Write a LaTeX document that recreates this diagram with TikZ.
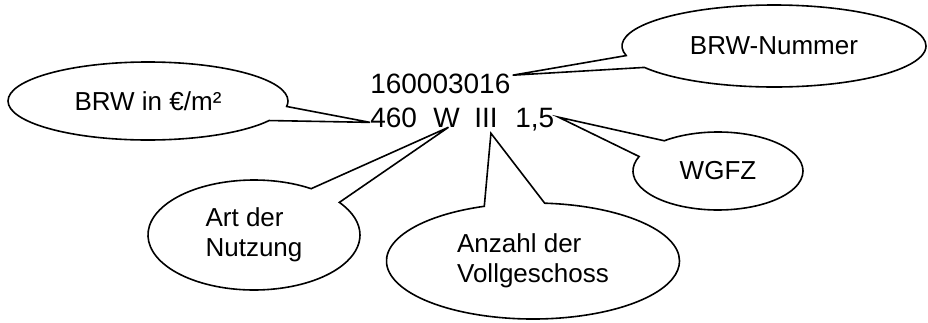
\documentclass[tikz,border=0pt]{standalone}
\usepackage{fontspec}
\setmainfont{Liberation Sans}
\usetikzlibrary{shapes.callouts,calc}

\begin{document}
\begin{tikzpicture}[x=0.75pt,y=0.75pt,yscale=-1,xscale=1,
  wert/.style={inner sep=0pt,anchor=base west,font=\fontsize{21}{25}\selectfont},
  bubble/.style={ellipse callout,draw,line width=1.2pt,inner sep=0pt,align=left,font=\fontsize{19.5}{22.5}\selectfont}]
\useasboundingbox (0,0) rectangle (928,322);

% Text Node
\node [wert] (nr) at (370,93) {160003016};
% Text Node
\node [wert] (v460) at (370,127) {460};
% Text Node
\node [wert] (vW) at (433,127) {W};
% Text Node
\node [wert] (vIII) at (474,127) {III};
% Text Node
\node [wert] (v15) at (515,127) {1,5};

% pointer ends
\coordinate (tNr) at ($(nr.north east)+(2,2)$);
\coordinate (t460) at ($(v460.west)+(0,5)$);
\coordinate (tW) at ($(vW.south)+(2,0)$);
\coordinate (tIII) at ($(vIII.south)+(5,6)$);
\coordinate (t15) at ($(v15.east)+(4,-2)$);

%Shape: Ellipse Callout
\node [bubble,minimum width=210pt,minimum height=58.5pt,callout pointer arc=22,
  callout absolute pointer={(t460)}] (brw) at (148,101) {BRW in €/m²};
%Shape: Ellipse Callout
\node [bubble,minimum width=228pt,minimum height=61.5pt,callout pointer arc=18,
  callout absolute pointer={(tNr)}] (nummer) at (774,46) {BRW-Nummer};
%Shape: Ellipse Callout
\node [bubble,minimum width=159pt,minimum height=82.5pt,callout pointer arc=21,
  callout absolute pointer={(tW)}] (art) at (254,235) {Art der\\Nutzung};
%Shape: Ellipse Callout
\node [bubble,minimum width=219.75pt,minimum height=87pt,callout pointer arc=24,
  callout absolute pointer={(tIII)}] (anzahl) at (533,261) {Anzahl der\\Vollgeschoss};
%Shape: Ellipse Callout
\node [bubble,minimum width=127.5pt,minimum height=58.5pt,callout pointer arc=29,
  callout absolute pointer={(t15)}] (wgfz) at (718,171) {WGFZ};

\end{tikzpicture}
\end{document}
